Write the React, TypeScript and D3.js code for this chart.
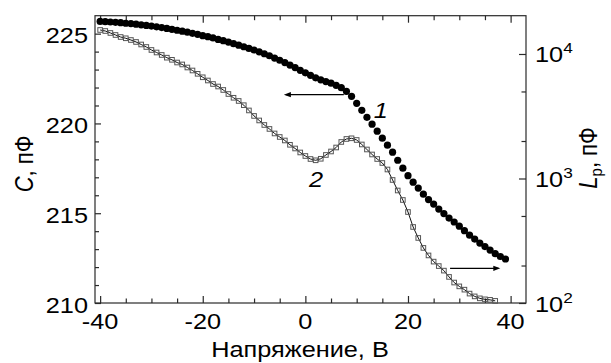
import { useEffect, useRef } from "react";
import * as d3 from "d3";

const WIDTH = 611;
const HEIGHT = 363;
const PAD = { left: 95, right: 85, top: 15.7, bottom: 60 };
const AXIS = "#2a2a2a";
const FONT = "'Liberation Sans', Arial, sans-serif";
const SX = 1.15; // the reference text is drawn a little wide

// curve 1: capacitance C (pF), left axis
const VOLTS_C = [
  -40, -39, -38, -37, -36, -35, -34, -33, -32, -31, -30, -29, -28, -27, -26, -25, -24, -23, -22, -21,
  -20, -19, -18, -17, -16, -15, -14, -13, -12, -11, -10, -9, -8, -7, -6, -5, -4, -3, -2, -1,
  0, 1, 2, 3, 4, 5, 6, 7, 8, 9, 10, 11, 12, 13, 14, 15, 16, 17, 18, 19,
  20, 21, 22, 23, 24, 25, 26, 27, 28, 29, 30, 31, 32, 33, 34, 35, 36, 37, 38, 39,
];
const CAP = [
  225.68, 225.67, 225.65, 225.63, 225.61, 225.58, 225.56, 225.53, 225.49, 225.46,
  225.42, 225.38, 225.34, 225.29, 225.24, 225.19, 225.14, 225.08, 225.02, 224.96,
  224.89, 224.83, 224.76, 224.68, 224.61, 224.53, 224.44, 224.36, 224.27, 224.18,
  224.09, 223.99, 223.88, 223.77, 223.64, 223.52, 223.39, 223.25, 223.11, 222.96,
  222.82, 222.68, 222.54, 222.43, 222.33, 222.24, 222.12, 221.99, 221.79, 221.51,
  221.12, 220.73, 220.34, 219.96, 219.57, 219.18, 218.79, 218.4, 217.95, 217.51,
  217.09, 216.73, 216.4, 216.06, 215.76, 215.51, 215.23, 214.98, 214.73, 214.51,
  214.28, 214.03, 213.78, 213.56, 213.34, 213.14, 212.95, 212.75, 212.59, 212.45,
];

// curve 2: Lp (pF), right log axis
const VOLTS_L = [
  -40, -39, -38, -37, -36, -35, -34, -33, -32, -31, -30, -29, -28, -27, -26, -25, -24, -23, -22, -21,
  -20, -19, -18, -17, -16, -15, -14, -13, -12, -11, -10, -9, -8, -7, -6, -5, -4, -3, -2, -1,
  0, 1, 2, 3, 4, 5, 6, 7, 8, 9, 10, 11, 12, 13, 14, 15, 16, 17, 18, 19,
  20, 21, 22, 23, 24, 25, 26, 27, 28, 29, 30, 31, 32, 33, 34, 35, 36, 37,
];
const LP = [
  15590, 15300, 14750, 14210, 13690, 13370, 12950, 12490, 11920, 11380,
  10770, 10280, 9820, 9340, 8980, 8540, 8240, 7790, 7370, 6930,
  6500, 6125, 5740, 5480, 5140, 4770, 4450, 4195, 3880, 3520,
  3180, 2925, 2690, 2500, 2300, 2155, 2020, 1865, 1742, 1618,
  1516, 1434, 1400, 1440, 1545, 1648, 1774, 1965, 2077, 2103,
  2038, 1876, 1710, 1559, 1434, 1332, 1181, 973, 801, 672,
  538, 408, 333, 277, 241, 215, 198, 182, 162, 146,
  136, 128, 119, 113, 109, 107, 106, 104,
];

const X_DOMAIN: [number, number] = [-41, 43];
const C_DOMAIN: [number, number] = [210, 226];
const L_DOMAIN: [number, number] = [100, 20300];

const X_MAJOR = [-40, -20, 0, 20, 40];
const X_MINOR = [-35, -30, -25, -15, -10, -5, 5, 10, 15, 25, 30, 35];
const C_MAJOR = [210, 215, 220, 225];
const C_MINOR = [211, 212, 213, 214, 216, 217, 218, 219, 221, 222, 223, 224];
const L_MAJOR = [100, 1000, 10000];
const L_EXP = ["2", "3", "4"];
const L_MINOR = [200, 500, 2000, 5000];

// arrows: [volts, value] from -> to
const ARROW_C = [[7.5, 221.6], [-3.8, 221.6]];
const ARROW_L = [[28.2, 190], [37.6, 190]];
const LABEL_1 = [14.7, 220.3];
const LABEL_2 = [2.1, 855];

export default function App() {
  const svgRef = useRef<SVGSVGElement | null>(null);

  useEffect(() => {
    const svgEl = svgRef.current;
    if (!svgEl) return;
    const svg = d3.select(svgEl);
    svg.selectAll("*").remove();

    const x = d3.scaleLinear().domain(X_DOMAIN).range([PAD.left, WIDTH - PAD.right]);
    const yC = d3.scaleLinear().domain(C_DOMAIN).range([HEIGHT - PAD.bottom, PAD.top]);
    const yL = d3.scaleLog().domain(L_DOMAIN).range([HEIGHT - PAD.bottom, PAD.top]);

    const left = PAD.left;
    const right = WIDTH - PAD.right;
    const top = PAD.top;
    const bottom = HEIGHT - PAD.bottom;

    const ticks = (g: d3.Selection<SVGGElement, unknown, null, undefined>, axis: d3.Axis<any>) =>
      g
        .call(axis)
        .call((s) => s.select(".domain").remove())
        .call((s) => s.selectAll(".tick text").remove())
        .call((s) => s.selectAll(".tick line").attr("stroke", AXIS).attr("stroke-width", 1.2));

    ticks(svg.append("g").attr("transform", `translate(0,${bottom})`), d3.axisBottom(x).tickValues(X_MAJOR).tickSize(-7));
    ticks(svg.append("g").attr("transform", `translate(0,${bottom})`), d3.axisBottom(x).tickValues(X_MINOR).tickSize(-4.5));
    ticks(svg.append("g").attr("transform", `translate(0,${top})`), d3.axisTop(x).tickValues(X_MAJOR).tickSize(-7));
    ticks(svg.append("g").attr("transform", `translate(0,${top})`), d3.axisTop(x).tickValues(X_MINOR).tickSize(-4.5));
    ticks(svg.append("g").attr("transform", `translate(${left},0)`), d3.axisLeft(yC).tickValues(C_MAJOR).tickSize(-6));
    ticks(svg.append("g").attr("transform", `translate(${left},0)`), d3.axisLeft(yC).tickValues(C_MINOR).tickSize(-4));
    ticks(svg.append("g").attr("transform", `translate(${right},0)`), d3.axisRight(yL).tickValues(L_MAJOR).tickSize(-7));
    ticks(svg.append("g").attr("transform", `translate(${right},0)`), d3.axisRight(yL).tickValues(L_MINOR).tickSize(-4.5));

    svg
      .append("rect")
      .attr("x", left)
      .attr("y", top)
      .attr("width", right - left)
      .attr("height", bottom - top)
      .attr("fill", "none")
      .attr("stroke", AXIS)
      .attr("stroke-width", 1.2);

    const text = (px: number, py: number, anchor: string, rotate = false) =>
      svg
        .append("text")
        .attr("transform", `translate(${px},${py}) scale(${SX},1)${rotate ? " rotate(-90)" : ""}`)
        .attr("text-anchor", anchor)
        .attr("font-family", FONT)
        .attr("font-size", 22)
        .attr("fill", "#000");

    X_MAJOR.forEach((v) => text(x(v), 328.5, "middle").text(String(v)));
    C_MAJOR.forEach((v) => text(88, yC(v) + 9.5, "end").text(String(v)));
    L_MAJOR.forEach((v, i) => {
      const t = text(535, yL(v) + 8.5, "start");
      t.append("tspan").text("10");
      t.append("tspan").attr("font-size", 15).attr("dy", -9).text(L_EXP[i]);
    });

    text(300, 357, "middle").text("Напряжение, В");

    const titleC = text(33, 164, "middle", true);
    titleC.append("tspan").attr("font-style", "italic").text("C");
    titleC.append("tspan").text(", пФ");

    const titleL = text(597, 158, "middle", true);
    titleL.append("tspan").attr("font-style", "italic").text("L");
    titleL.append("tspan").attr("font-size", 15).attr("dy", 4).text("p");
    titleL.append("tspan").attr("dy", -4).text(", пФ");

    // curve 2: line + open squares
    const ptsL = VOLTS_L.map((v, i) => [x(v), yL(LP[i])] as [number, number]);
    svg
      .append("path")
      .attr("d", d3.line()(ptsL))
      .attr("fill", "none")
      .attr("stroke", "#111")
      .attr("stroke-width", 1);
    svg
      .append("g")
      .selectAll("rect")
      .data(ptsL)
      .join("rect")
      .attr("x", (d) => d[0] - 2.3)
      .attr("y", (d) => d[1] - 2.3)
      .attr("width", 4.6)
      .attr("height", 4.6)
      .attr("fill", "none")
      .attr("stroke", "#555")
      .attr("stroke-width", 1);

    // curve 1: filled dots
    svg
      .append("g")
      .selectAll("circle")
      .data(VOLTS_C)
      .join("circle")
      .attr("cx", (v) => x(v))
      .attr("cy", (_, i) => yC(CAP[i]))
      .attr("r", 3.6)
      .attr("fill", "#000");

    const arrow = (p0: [number, number], p1: [number, number]) => {
      svg
        .append("line")
        .attr("x1", p0[0])
        .attr("y1", p0[1])
        .attr("x2", p1[0])
        .attr("y2", p1[1])
        .attr("stroke", "#000")
        .attr("stroke-width", 1.3);
      const dir = Math.sign(p1[0] - p0[0]);
      svg
        .append("path")
        .attr("d", `M${p1[0] + dir * 2},${p1[1]} L${p1[0] - dir * 5},${p1[1] - 2.6} L${p1[0] - dir * 5},${p1[1] + 2.6} Z`)
        .attr("fill", "#000");
    };
    arrow([x(ARROW_C[0][0]), yC(ARROW_C[0][1])], [x(ARROW_C[1][0]), yC(ARROW_C[1][1])]);
    arrow([x(ARROW_L[0][0]), yL(ARROW_L[0][1])], [x(ARROW_L[1][0]), yL(ARROW_L[1][1])]);

    text(x(LABEL_1[0]), yC(LABEL_1[1]), "middle").attr("font-style", "italic").text("1");
    text(x(LABEL_2[0]), yL(LABEL_2[1]), "middle").attr("font-style", "italic").text("2");
  }, []);

  return (
    <svg
      ref={svgRef}
      width={WIDTH}
      height={HEIGHT}
      viewBox={`0 0 ${WIDTH} ${HEIGHT}`}
      style={{ position: "absolute", left: 0, top: 0, display: "block", background: "#fff" }}
    />
  );
}
